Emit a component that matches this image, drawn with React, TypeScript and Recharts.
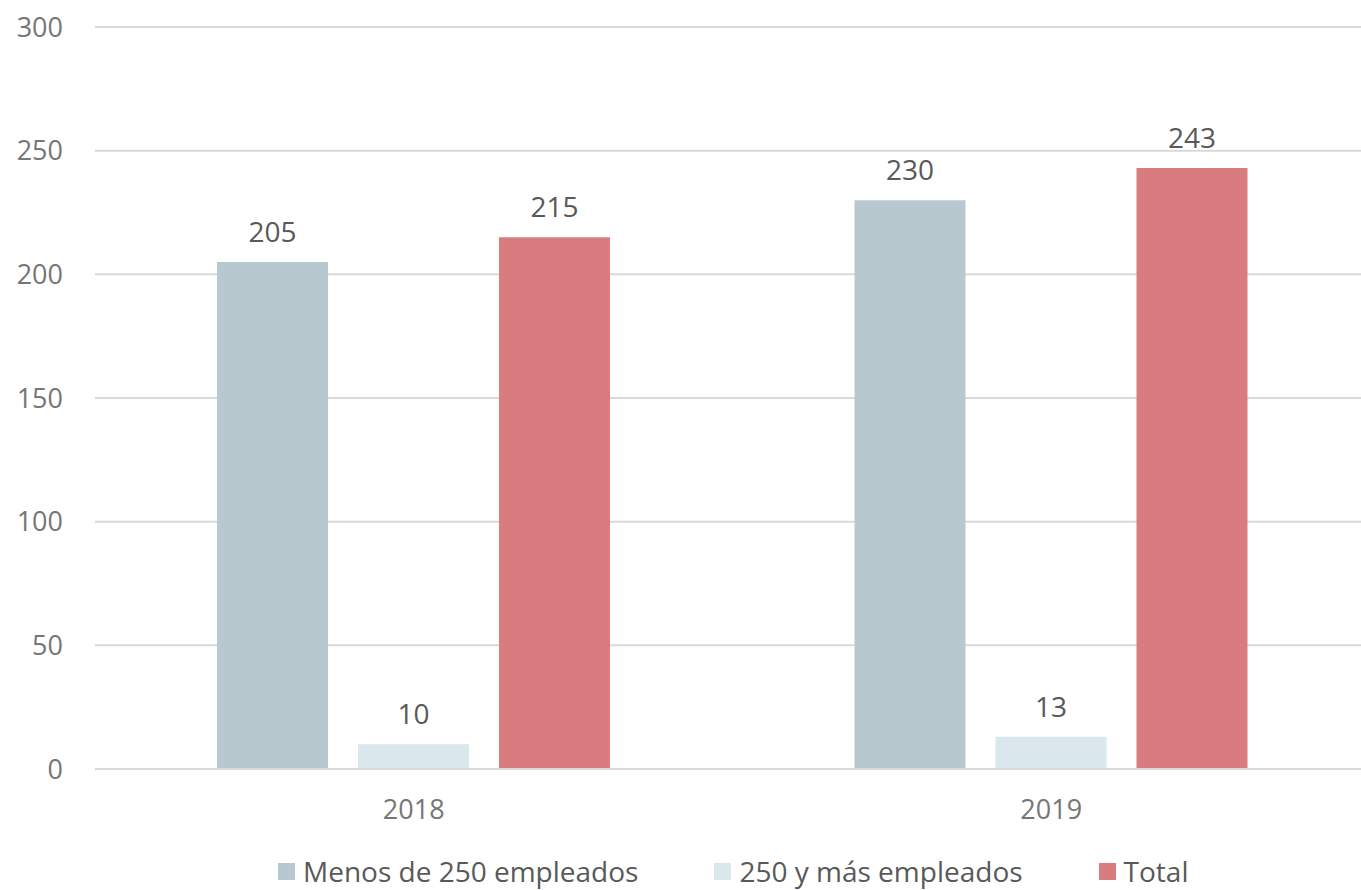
import React from "react";
import {
  BarChart,
  Bar,
  XAxis,
  YAxis,
  CartesianGrid,
  Legend,
  LabelList,
} from "recharts";

const years = ["2018", "2019"];
const menos250 = [205, 230];
const mas250 = [10, 13];
const total = [215, 243];
const yTicks = [0, 50, 100, 150, 200, 250, 300];

const seriesNames = ["Menos de 250 empleados", "250 y más empleados", "Total"];
const seriesColors = ["#B7C8CE", "#DAE7ED", "#D87C7F"];

const data = years.map((year, i) => ({
  year,
  menos: menos250[i],
  mas: mas250[i],
  total: total[i],
}));

const FONT = "'Open Sans', sans-serif";

function LegendContent({ payload }: any) {
  // keep the series order, not the alphabetical one
  const items = [...(payload || [])].sort(
    (a: any, b: any) => seriesNames.indexOf(a.value) - seriesNames.indexOf(b.value)
  );
  return (
    <div style={{ display: "flex", alignItems: "center", fontFamily: FONT, height: 30 }}>
      {items.map((item: any) => (
        <div
          key={item.value}
          style={{ display: "flex", alignItems: "center", marginRight: 76 }}
        >
          <span
            style={{
              width: 17,
              height: 17,
              background: item.color,
              display: "inline-block",
              marginRight: 8,
            }}
          />
          <span style={{ fontSize: 28, lineHeight: "30px", color: "#595959" }}>
            {item.value}
          </span>
        </div>
      ))}
    </div>
  );
}

export default function App() {
  return (
    <div
      style={{
        position: "absolute",
        top: 0,
        left: 0,
        width: 1361,
        height: 890,
        overflow: "hidden",
        background: "#fff",
      }}
    >
      <BarChart
        width={1370}
        height={890}
        data={data}
        margin={{ top: 27, right: 0, left: 15, bottom: 91 }}
        barSize={111}
        barGap={30}
      >
        <CartesianGrid vertical={false} stroke="#D9D9D9" strokeWidth={2} />
        <XAxis
          dataKey="year"
          tickLine={false}
          axisLine={{ stroke: "#D9D9D9", strokeWidth: 2 }}
          tickMargin={25}
          tick={{ fill: "#767676", fontSize: 27, fontFamily: FONT }}
        />
        <YAxis
          width={80}
          domain={[0, 300]}
          ticks={yTicks}
          axisLine={false}
          tickLine={false}
          tickMargin={26}
          tick={{ fill: "#767676", fontSize: 27, fontFamily: FONT }}
        />
        <Legend
          verticalAlign="middle"
          align="center"
          layout="horizontal"
          wrapperStyle={{ top: 856, left: 278, width: 1000, height: 30 }}
          content={<LegendContent />}
        />
        <Bar
          dataKey="menos"
          name={seriesNames[0]}
          fill={seriesColors[0]}
          isAnimationActive={false}
        >
          <LabelList
            dataKey="menos"
            position="top"
            offset={20}
            fill="#595959"
            fontSize={28}
            fontFamily={FONT}
          />
        </Bar>
        <Bar
          dataKey="mas"
          name={seriesNames[1]}
          fill={seriesColors[1]}
          isAnimationActive={false}
        >
          <LabelList
            dataKey="mas"
            position="top"
            offset={20}
            fill="#595959"
            fontSize={28}
            fontFamily={FONT}
          />
        </Bar>
        <Bar
          dataKey="total"
          name={seriesNames[2]}
          fill={seriesColors[2]}
          isAnimationActive={false}
        >
          <LabelList
            dataKey="total"
            position="top"
            offset={20}
            fill="#595959"
            fontSize={28}
            fontFamily={FONT}
          />
        </Bar>
      </BarChart>
    </div>
  );
}
